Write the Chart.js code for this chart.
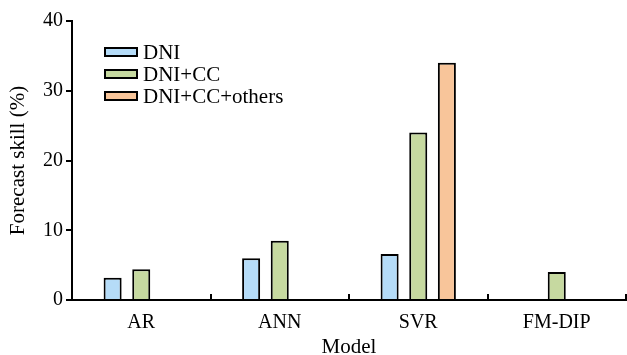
<!DOCTYPE html>
<html>
<head>
<meta charset="utf-8">
<script src="https://cdn.jsdelivr.net/npm/chart.js@4/dist/chart.umd.min.js"></script>
<style>
  html, body { margin: 0; padding: 0; background: #fff; }
  #wrap { width: 627px; height: 355px; }
</style>
</head>
<body>
<div id="wrap"><canvas id="chart" width="627" height="355"></canvas></div>
<script>
// ── Data ──────────────────────────────────────────────
const models      = ['AR', 'ANN', 'SVR', 'FM-DIP'];
const dniSkill    = [3.2, 6.0, 6.6, null];
const dniCcSkill  = [4.4, 8.5, 24.0, 4.0];
const othersSkill = [null, null, 34.0, null];
const yTicks      = [0, 10, 20, 30, 40];

const FONT = "'Liberation Serif', 'Times New Roman', serif";

// small upward tick marks on the category boundaries of the x axis
const innerTicks = {
    id: 'innerTicks',
    afterDraw(chart) {
        const x = chart.scales.x;
        const ctx = chart.ctx;
        ctx.save();
        ctx.strokeStyle = '#000';
        ctx.lineWidth = 2;
        for (let i = 0; i < models.length; i++) {
            const px = Math.round(x.getPixelForValue(i + 0.5));
            ctx.beginPath();
            ctx.moveTo(px, x.top);
            ctx.lineTo(px, x.top - 6);
            ctx.stroke();
        }
        ctx.restore();
    }
};

// legend drawn inside the plot area, stacked
const insideLegend = {
    id: 'insideLegend',
    afterDraw(chart) {
        const ctx = chart.ctx;
        const x0 = 105, y0 = 52, step = 22;
        ctx.save();
        ctx.font = '21px ' + FONT;
        ctx.textBaseline = 'middle';
        chart.data.datasets.forEach((ds, i) => {
            const y = y0 + i * step;
            ctx.fillStyle = ds.backgroundColor;
            ctx.fillRect(x0, y - 4, 32, 8);
            ctx.strokeStyle = '#000';
            ctx.lineWidth = 2;
            ctx.strokeRect(x0, y - 4, 32, 8);
            ctx.fillStyle = '#000';
            ctx.fillText(ds.label, x0 + 38, y + 1);
        });
        ctx.restore();
    }
};

new Chart(document.getElementById('chart'), {
    type: 'bar',
    data: {
        labels: models,
        datasets: [
            { label: 'DNI',            data: dniSkill,    backgroundColor: '#b5dcf8' },
            { label: 'DNI+CC',         data: dniCcSkill,  backgroundColor: '#c6d9a0' },
            { label: 'DNI+CC+others',  data: othersSkill, backgroundColor: '#f8c59a' }
        ]
    },
    options: {
        responsive: false,
        animation: false,
        layout: { padding: { top: 21, right: 1, bottom: 0, left: 0 } },
        datasets: {
            bar: {
                borderColor: '#000',
                borderWidth: 2,
                categoryPercentage: 0.62,
                barPercentage: 0.63
            }
        },
        plugins: {
            legend:  { display: false },
            tooltip: { enabled: false }
        },
        scales: {
            x: {
                grid: { display: false },
                border: { color: '#000', width: 2 },
                ticks: { color: '#000', font: { family: FONT, size: 20 }, padding: 3 },
                title: { display: true, text: 'Model', color: '#000', font: { family: FONT, size: 21 }, padding: { top: 2, bottom: -5 } },
                afterFit(scale) { scale.height = 55; }
            },
            y: {
                min: 0,
                max: 40,
                afterBuildTicks(scale) { scale.ticks = yTicks.map(v => ({ value: v })); },
                grid: { drawOnChartArea: false, color: '#000', lineWidth: 2, tickLength: 6 },
                border: { color: '#000', width: 2 },
                ticks: { color: '#000', font: { family: FONT, size: 20 }, padding: 3 },
                title: { display: true, text: 'Forecast skill (%)', color: '#000', font: { family: FONT, size: 21 }, padding: { top: 6, bottom: 2 } },
                afterFit(scale) { scale.width = 72; }
            }
        }
    },
    plugins: [innerTicks, insideLegend]
});
</script>
</body>
</html>
